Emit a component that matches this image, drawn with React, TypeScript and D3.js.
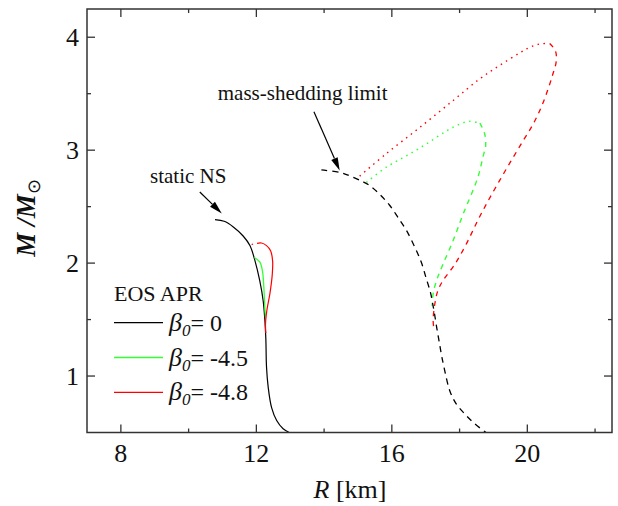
import React from "react";
import * as d3 from "d3";

type P = [number, number];

// R [km], M/Msun
const staticNS: P[] = [[10.78,2.385],[11.05,2.37],[11.32,2.32],[11.61,2.24],[11.81,2.155],[11.96,2.02],[12.1,1.845],[12.2,1.67],[12.25,1.5],[12.28,1.33],[12.3,1.08],[12.35,0.9],[12.45,0.72],[12.6,0.606],[12.79,0.533],[12.97,0.5]];
const greenSolid: P[] = [[11.94,2.05],[12.1,2.01],[12.18,1.93],[12.22,1.79],[12.25,1.61],[12.27,1.52]];
const redSolid: P[] = [[12.02,2.175],[12.15,2.178],[12.3,2.155],[12.42,2.11],[12.48,2.02],[12.47,1.9],[12.4,1.73],[12.31,1.58],[12.27,1.46],[12.28,1.38]];
const redDotShort: P[] = [[11.86,2.165],[11.98,2.172]];
const blackDashed: P[] = [[13.92,2.825],[14.51,2.80],[14.86,2.76],[15.15,2.72],[15.35,2.686],[15.64,2.61],[15.94,2.51],[16.18,2.405],[16.43,2.29],[16.68,2.14],[16.87,2.007],[17.02,1.86],[17.14,1.74],[17.2,1.65],[17.26,1.55],[17.33,1.42],[17.4,1.3],[17.47,1.18],[17.56,1.05],[17.71,0.87],[17.9,0.754],[18.15,0.665],[18.45,0.577],[18.78,0.5]];
const greenDotted: P[] = [[15.25,2.715],[15.84,2.85],[16.43,2.95],[17.02,3.055],[17.61,3.17],[18.0,3.23],[18.3,3.255],[18.6,3.24]];
const greenDashed: P[] = [[18.6,3.24],[18.74,3.145],[18.77,3.04],[18.69,2.94],[18.54,2.76],[18.1,2.43],[17.81,2.2],[17.51,1.99],[17.32,1.845],[17.22,1.73],[17.19,1.62]];
const redDotted: P[] = [[15.05,2.77],[15.84,2.97],[16.82,3.2],[17.81,3.44],[18.59,3.63],[19.18,3.75],[19.77,3.86],[20.07,3.91],[20.36,3.94],[20.66,3.945]];
const redDashed: P[] = [[20.66,3.945],[20.83,3.88],[20.85,3.78],[20.75,3.67],[20.6,3.53],[20.41,3.38],[20.17,3.23],[19.87,3.08],[19.53,2.91],[19.18,2.73],[18.84,2.55],[18.54,2.38],[18.2,2.17],[17.86,1.99],[17.51,1.845],[17.36,1.757],[17.27,1.64],[17.22,1.49],[17.25,1.4]];

const xMajor = [8, 12, 16, 20];
const xMinor = [10, 14, 18, 22];
const yMajor = [1, 2, 3, 4];
const yMinor = [1.5, 2.5, 3.5];
const legendItems = [
  { label: "0", color: "#000000" },
  { label: "-4.5", color: "#33ff33" },
  { label: "-4.8", color: "#ff0000" },
];

const W = 618, H = 506;
const L = 87, R = 612, T = 9, B = 432.5;
const GREEN = "#33ff33";
const RED = "#ff0000";
const FONT = "'Liberation Serif', 'Times New Roman', serif";

export default function App() {
  const x = d3.scaleLinear().domain([7, 22.5]).range([L, R]);
  const y = d3.scaleLinear().domain([0.5, 4.25]).range([B, T]);
  const line = d3.line<P>().x(d => x(d[0])).y(d => y(d[1])).curve(d3.curveCatmullRom.alpha(0.5));

  const arrow = (x1: number, y1: number, x2: number, y2: number, key: string) => {
    const px1 = x(x1), py1 = y(y1), px2 = x(x2), py2 = y(y2);
    const ang = Math.atan2(py2 - py1, px2 - px1);
    const len = 13, hw = 3.5;
    const bx = px2 - len * Math.cos(ang), by = py2 - len * Math.sin(ang);
    const nx = -Math.sin(ang), ny = Math.cos(ang);
    return (
      <g key={key}>
        <line x1={px1} y1={py1} x2={bx} y2={by} stroke="#000" strokeWidth={1.2} />
        <polygon points={`${px2},${py2} ${bx + nx * hw},${by + ny * hw} ${bx - nx * hw},${by - ny * hw}`} fill="#000" />
      </g>
    );
  };

  return (
    <svg width={W} height={H} style={{ position: "absolute", left: 0, top: 0, background: "#fff", fontFamily: FONT }}>
      <rect x={0} y={0} width={W} height={H} fill="#fff" />
      {/* curves */}
      <path d={line(staticNS)!} fill="none" stroke="#000" strokeWidth={1.2} />
      <path d={line(greenSolid)!} fill="none" stroke={GREEN} strokeWidth={1.3} />
      <path d={line(redSolid)!} fill="none" stroke={RED} strokeWidth={1.2} />
      <path d={line(redDotShort)!} fill="none" stroke={RED} strokeWidth={1.2} strokeDasharray="1.5 4" />
      <path d={line(greenDotted)!} fill="none" stroke={GREEN} strokeWidth={1.5} strokeDasharray="1.5 4.5" />
      <path d={line(greenDashed)!} fill="none" stroke={GREEN} strokeWidth={1.4} strokeDasharray="5 5" />
      <path d={line(redDotted)!} fill="none" stroke={RED} strokeWidth={1.4} strokeDasharray="1.5 4.5" />
      <path d={line(redDashed)!} fill="none" stroke={RED} strokeWidth={1.3} strokeDasharray="5 5" />
      <path d={line(blackDashed)!} fill="none" stroke="#000" strokeWidth={1.3} strokeDasharray="6 5" />

      {/* frame */}
      <rect x={L} y={T} width={R - L} height={B - T} fill="none" stroke="#333" strokeWidth={1.5} />
      {xMajor.map(v => (
        <g key={"xM" + v}>
          <line x1={x(v)} x2={x(v)} y1={B} y2={B - 8} stroke="#333" strokeWidth={1.3} />
          <line x1={x(v)} x2={x(v)} y1={T} y2={T + 8} stroke="#333" strokeWidth={1.3} />
          <text x={x(v)} y={462} fontSize={26} textAnchor="middle" fill="#111">{v}</text>
        </g>
      ))}
      {xMinor.map(v => (
        <g key={"xm" + v}>
          <line x1={x(v)} x2={x(v)} y1={B} y2={B - 4} stroke="#333" strokeWidth={1.3} />
          <line x1={x(v)} x2={x(v)} y1={T} y2={T + 4} stroke="#333" strokeWidth={1.3} />
        </g>
      ))}
      {yMajor.map(v => (
        <g key={"yM" + v}>
          <line x1={L} x2={L + 8} y1={y(v)} y2={y(v)} stroke="#333" strokeWidth={1.3} />
          <line x1={R} x2={R - 8} y1={y(v)} y2={y(v)} stroke="#333" strokeWidth={1.3} />
          <text x={79} y={y(v)} dy="0.35em" fontSize={26} textAnchor="end" fill="#111">{v}</text>
        </g>
      ))}
      {yMinor.map(v => (
        <g key={"ym" + v}>
          <line x1={L} x2={L + 4} y1={y(v)} y2={y(v)} stroke="#333" strokeWidth={1.3} />
          <line x1={R} x2={R - 4} y1={y(v)} y2={y(v)} stroke="#333" strokeWidth={1.3} />
        </g>
      ))}

      {/* axis titles */}
      <text x={350} y={498} fontSize={26} textAnchor="middle" fill="#111">
        <tspan fontStyle="italic">R</tspan> [km]
      </text>
      <text transform="translate(35,218) rotate(-90)" fontSize={27} textAnchor="middle" fill="#111">
        <tspan fontStyle="italic" fontWeight="bold">M</tspan>
        <tspan fontStyle="italic" fontWeight="bold"> /M</tspan>
        <tspan fontSize={18} dy={5}>⊙</tspan>
      </text>

      {/* annotations */}
      <text x={x(8.86)} y={y(2.705)} fontSize={21} fill="#111">static NS</text>
      {arrow(10.33, 2.63, 10.98, 2.44, "a1")}
      <text x={x(10.86)} y={y(3.44)} fontSize={21} fill="#111">mass-shedding limit</text>
      {arrow(13.7, 3.34, 14.46, 2.82, "a2")}

      {/* legend */}
      <text x={114} y={300.7} fontSize={22} fill="#111">EOS APR</text>
      {legendItems.map((it, i) => {
        const ly = 322.7 + i * 34.8;
        return (
          <g key={"lg" + i}>
            <line x1={114} x2={163} y1={ly} y2={ly} stroke={it.color} strokeWidth={1.3} />
            <text x={169} y={ly + 8} fontSize={24} fill="#111">
              <tspan fontStyle="italic" fontSize={26}>β</tspan>
              <tspan fontStyle="italic" fontSize={17} dy={5}>0</tspan>
              <tspan dy={-5}>= {it.label}</tspan>
            </text>
          </g>
        );
      })}
    </svg>
  );
}
